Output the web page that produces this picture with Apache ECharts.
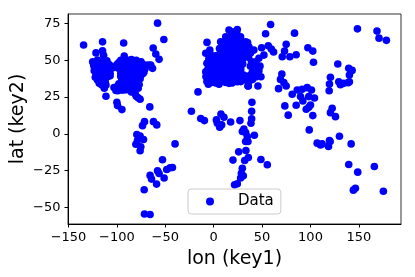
<!DOCTYPE html>
<html><head><meta charset="utf-8">
<style>html,body{margin:0;padding:0;background:#fff}#c{width:415px;height:277px}</style>
<script src="https://cdn.jsdelivr.net/npm/echarts@6/dist/echarts.min.js"></script>
</head><body><div id="c"></div>
<script>
const xTicks=[-150,-100,-50,0,50,100,150];
const yTicks=[-50,-25,0,25,50,75];
const legendLabel='Data';
const xName='lon (key1)';
const yName='lat (key2)';
const northAmericaWest=[[-134.4,60.3],[-114.8,62.5],[-93,61.7],[-121.6,55],[-114.8,56.4],[-113.7,53.3],[-110.3,49.7],[-125,49],[-120,50.1],[-116.5,49],[-123.4,45.5],[-123.4,42.8],[-121.6,41.1],[-122.3,38.4],[-120,36.6],[-118.2,34.3],[-115.5,33.2],[-111.3,33.2],[-113,31],[-116.5,37],[-112,37.7],[-118.2,43.4],[-114.8,44.5],[-113,41.1],[-118,45.6],[-111.3,47.9],[-109.6,45.6],[-107.9,42.2],[-109.6,38.8],[-107,39.5],[-107,41],[-105.2,44.5],[-111.3,25.5],[-100,21.5],[-99.3,19.2],[-94.8,16.5],[-121,47],[-119.5,40],[-117,41],[-115,47.5],[-112.5,45.5],[-110,42],[-119,38.5],[-114.5,35],[-112,35],[-124,47],[-108,47],[-106.5,46]];
const northAmericaEast=[[-92.4,52.8],[-98,48.5],[-96,50],[-100,47],[-100,45],[-98,44.5],[-93,47],[-89,50],[-85,50.5],[-80,50],[-75,49],[-70,46.5],[-67.3,46.7],[-65,46.7],[-63.2,44.5],[-71,44],[-74,45.5],[-78,44.5],[-82,46],[-86,46],[-90,45],[-94,44],[-96,41],[-92,41],[-88,42],[-84,42],[-80,42],[-76,43],[-73,41],[-75,40],[-78,39.5],[-82,39],[-86,39],[-90,39],[-94,38.5],[-95,36.5],[-98,34],[-100,32],[-97,32.5],[-94,35],[-90,35],[-86,36],[-82,36],[-78,36],[-80,33],[-84,33],[-88,32.5],[-92,32],[-95,29.8],[-99,29.3],[-90,30],[-86,30.5],[-82,29],[-81,27],[-80,25.5],[-76,23.5],[-78,24.5],[-103,31.5],[-101,29.5],[-91,37],[-87,41],[-83,44],[-79,47],[-72,42],[-77,41],[-89,47],[-95,47],[-84,37],[-93,29.8],[-88,34],[-87,48],[-83,48.5],[-78,48.5],[-73,47],[-92,43],[-88,44],[-84,40],[-80,38],[-76,37.5],[-92,36],[-88,37],[-96,34],[-92,34],[-85,34.5],[-82,32],[-96,39],[-98,30.5],[-94,31],[-90,32.5],[-85,28.5],[-78,31],[-76,46],[-80,45],[-85,44],[-91,49],[-95,42.5],[-81,35],[-77,33.5],[-74,43]];
const caribbeanAndSouthAmerica=[[-58,75.2],[-51.5,64.1],[-62.5,58.3],[-59.8,54.2],[-56.4,50.6],[-66,18.3],[-71.5,8.3],[-73.5,5.6],[-62.2,8.3],[-58.8,6.1],[-79.4,-0.5],[-76,-1.4],[-39.9,-6.8],[-52.9,-17.6],[-42.6,-22.8],[-45,-23],[-48.5,-24.2],[-58,-25],[-56.4,-26.9],[-51.2,-30],[-65.7,-28.2],[-64.2,-30.7],[-59,-34.1],[-71.8,-37.9],[-71.5,-54.4],[-65.7,-54.7],[-80.4,-7],[-75.3,-8.8],[-76,-11.5],[-72.5,-3.8],[-78.7,-4.3]];
const atlanticAndAfrica=[[-16.2,28.5],[-23,15.4],[-13.4,10.4],[-9.6,9],[39.5,21.4],[39.2,15.4],[39.2,10.2],[38.5,7.2],[27.1,9],[17.5,8.1],[7.5,13.5],[10.6,11.3],[2.8,9.5],[3.8,7.2],[6.2,4.5],[8.2,6.1],[31.2,3.2],[33,0.9],[29.6,1.6],[42,-0.9],[34.7,-1.8],[33,-5.2],[35.4,-5.2],[25.8,-12.2],[33.3,-11.3],[19.9,-17.8],[35.8,-16],[32,-18.1],[29.6,-23.3],[28.6,-26.7],[30.6,-28.5],[27.8,-30],[21.6,-34.6],[24.4,-33.9],[48.8,-17.4],[55.4,-21]];
const europe=[[-6.9,62.1],[-8.2,54.7],[-3.1,49],[-8.2,42.2],[-6.5,37.7],[-5.5,33.7],[5.5,33.7],[15.8,34.3],[24.4,35.4],[33,36.6],[35.8,32.5],[15.8,70.5],[24.4,70.9],[20.3,69.3],[7.2,62.5],[12.4,65.9],[27.8,65.9],[33,62.5],[36.4,59.1],[41.5,56.9],[-4,57],[-2,53],[-5,51],[0,51.5],[2,49],[-1,46],[1,44],[-3,43],[-5,40],[-2,38],[0,39.5],[2,41.5],[5,44],[7,47],[5,51],[8,54],[10,57],[9,60],[13,63],[17,65],[22,65],[25,62],[29,61],[20,60],[16,59],[13,56],[17,57],[22,57],[26,58],[30,56],[33,55],[28,53],[24,52],[20,53],[16,52],[12,51],[9,50],[13,48],[17,48],[21,49],[25,49],[29,50],[32,52],[10,46],[14,45],[18,45],[22,46],[26,46],[8,43],[12,42],[16,41],[20,41],[24,42],[28,41],[31,40],[35,39],[26,38],[22,38],[14,37],[10,36],[3,36.5],[-2,35],[7,37],[19,34.5],[29,37],[38,40],[40,37],[37,36],[4,47],[2,53],[6,58],[15,61],[19,62],[23,60],[11,53],[15,49.5],[19,51],[23,54],[26,55],[30,47.5],[4,40],[36,52],[38,55],[35,62],[-1,42],[12,39],[18,38],[24,39.5],[-5,46],[-7,48],[-6,44],[-3,40],[-1,36.5],[1,47],[3,45],[6,41],[9,39.5],[7,49],[9,52],[11,49],[10,55],[13,53],[15,55],[18,55],[20,57],[24,56],[26,60],[18,60],[13,59],[22,62.5],[18,67],[24,68],[28,63],[16,47],[19,43],[23,44],[28,44],[27,48],[31,55],[34,57],[28,58],[31,59],[6,54],[-4,54],[7,45],[11,44],[14,40],[18,39.5],[21,36],[28,35.5],[12,35],[-8,39],[-7,35.5],[2,34.5],[25,51],[22,51],[15,43],[10,41],[5,37.5]];
const asia=[[58.8,74.3],[53.6,68],[83.5,68.4],[74.9,60.8],[97.3,58.5],[102.4,56.2],[73.2,56.2],[70.8,52.4],[78.7,52.4],[85.2,53.7],[103.1,48.6],[128.2,47.4],[49.5,58.5],[56.4,59.8],[59.5,57.6],[61.9,55.6],[51.9,53.5],[46.7,51.3],[43.3,49],[47.8,46],[46.7,42.9],[70.4,40.6],[69,37],[72.5,34.8],[74.9,32.5],[67,30.7],[48.8,38.8],[43.3,38.6],[45.7,32.5],[35.4,32.5],[120.6,38.4],[119.6,33.9],[119.3,29.3],[143,43.1],[139.5,44.5],[140.2,40],[140.2,35.4],[130.9,33.4],[129.2,35.4],[134.3,34.3],[138.9,34.8],[81.1,26.9],[86.3,29.8],[91.4,30.3],[96.6,31.4],[101,29.8],[89.7,25.3],[92.1,22.4],[98.2,25.3],[104.1,24.4],[100,19.6],[95.6,16.7],[98.2,18.1],[85.2,19.4],[73.5,19],[77,12.7],[102.4,12.4],[122.4,17.4],[120.6,14.4],[125.8,11.7],[98.7,2.7],[40,42],[39,49],[38,46],[44,42],[42,45]];
const pacificAndOceania=[[148.5,71.3],[168.7,69.8],[170.8,65],[178.4,63.5],[129.9,-1.6],[119.6,-4.5],[106.9,-6.3],[110.3,-7.5],[112,-6.8],[120.3,-5.2],[118.6,-8.5],[142,-6.8],[139.5,-20.8],[148.8,-26],[166,-22.2],[146.4,-37],[144.3,-38.2],[175.3,-39]];
const points=[...northAmericaWest,...northAmericaEast,...caribbeanAndSouthAmerica,...atlanticAndAfrica,...europe,...asia,...pacificAndOceania];
const font='"DejaVu Sans"';
const minusFmt=v=>String(v).replace('-','\u2212');
const axisCommon={
  splitLine:{show:false},
  axisLine:{onZero:false,show:true,lineStyle:{color:'#000',width:1}},
  nameLocation:'middle',
  nameMoveOverlap:false,
  nameTextStyle:{fontFamily:font,fontSize:19,color:'#000'}
};
const chart=echarts.init(document.getElementById('c'),null,{renderer:'canvas'});
chart.setOption({
  animation:false,
  backgroundColor:'#fff',
  grid:{left:68,right:14,top:14,bottom:53,show:true,borderColor:'#333',borderWidth:1,containLabel:false,outerBoundsMode:'none'},
  xAxis:{...axisCommon,type:'value',min:-150.5,max:193.5,name:xName,nameGap:26,
    axisTick:{show:true,length:3.5,customValues:xTicks,lineStyle:{color:'#000'}},
    axisLabel:{customValues:xTicks,formatter:minusFmt,fontFamily:font,fontSize:13,color:'#000',margin:7}},
  yAxis:{...axisCommon,type:'value',min:-61.2,max:81.4,name:yName,nameGap:40,
    axisTick:{show:true,length:3.5,customValues:yTicks,lineStyle:{color:'#000'}},
    axisLabel:{customValues:yTicks,formatter:minusFmt,fontFamily:font,fontSize:13,color:'#000',margin:7.5}},
  legend:{show:true,left:188,top:189,orient:'horizontal',padding:[5,7,5,18],itemWidth:8,itemHeight:8,
    borderColor:'#ccc',borderWidth:1,borderRadius:3,backgroundColor:'rgba(255,255,255,0.8)',
    formatter:'{a|{name}}',
    textStyle:{fontFamily:font,fontSize:15,color:'#000',rich:{a:{fontFamily:font,fontSize:15,color:'#000',padding:[0,0,0,19]}}},
    data:[{name:legendLabel,icon:'circle'}]},
  series:[{type:'scatter',name:legendLabel,data:points,symbol:'circle',symbolSize:7.6,
    itemStyle:{color:'#0000ff',opacity:1}}]
});
</script></body></html>
